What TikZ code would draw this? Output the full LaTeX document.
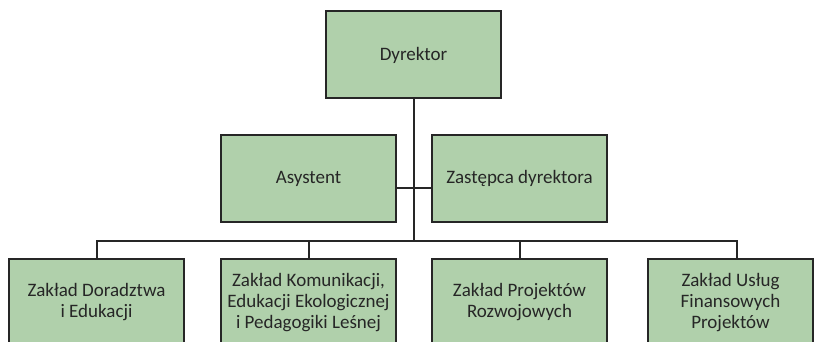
\documentclass[tikz,border=0pt]{standalone}
\usepackage{fontspec}
\setmainfont{Carlito}
\usepackage{xcolor}
\definecolor{unitfill}{RGB}{176,208,171}
\definecolor{unitline}{RGB}{38,38,38}
\tikzstyle{unit}=[draw=unitline, fill=unitfill, line width=2pt, minimum width=175pt, minimum height=87pt, align=center, text=unitline, font=\fontsize{19}{21}\selectfont]
\tikzset{link/.style={draw=unitline, line width=2pt}}

\begin{document}
\begin{tikzpicture}[x=1pt,y=-1pt]
  \clip (0,0) rectangle (816,342);
  \fill[white] (0,0) rectangle (816,342);

  \draw (413.5,55) node[unit] (D) {Dyrektor};

  \draw (308.5,178.5) node[unit] (A) {Asystent};
  \draw (519.5,178.5) node[unit] (Z) {Zastępca dyrektora};

  \draw (96.5,302.5) node[unit] (Z1) {Zakład Doradztwa\\i Edukacji};
  \draw (308.5,302.5) node[unit] (Z2) {Zakład Komunikacji,\\Edukacji Ekologicznej\\i Pedagogiki Leśnej};
  \draw (519.5,302.5) node[unit] (Z3) {Zakład Projektów\\Rozwojowych};
  \draw (730.5,302.5) node[unit, minimum width=165pt] (Z4) {Zakład Usług\\Finansowych\\Projektów};

  %% Lines
  \coordinate (bus) at (413.5,241);
  \draw[link] (D.south) -- (bus);
  \draw[link] ([yshift=-9.5pt]A.east) -- ([yshift=-9.5pt]Z.west);

  \draw[link] (Z1.north) |- (bus);
  \draw[link] (Z2.north) -- (Z2.north |- bus);
  \draw[link] (Z3.north) -- (Z3.north |- bus);
  \draw[link] ([xshift=6.5pt]Z4.north) |- (bus);
\end{tikzpicture}
\end{document}
